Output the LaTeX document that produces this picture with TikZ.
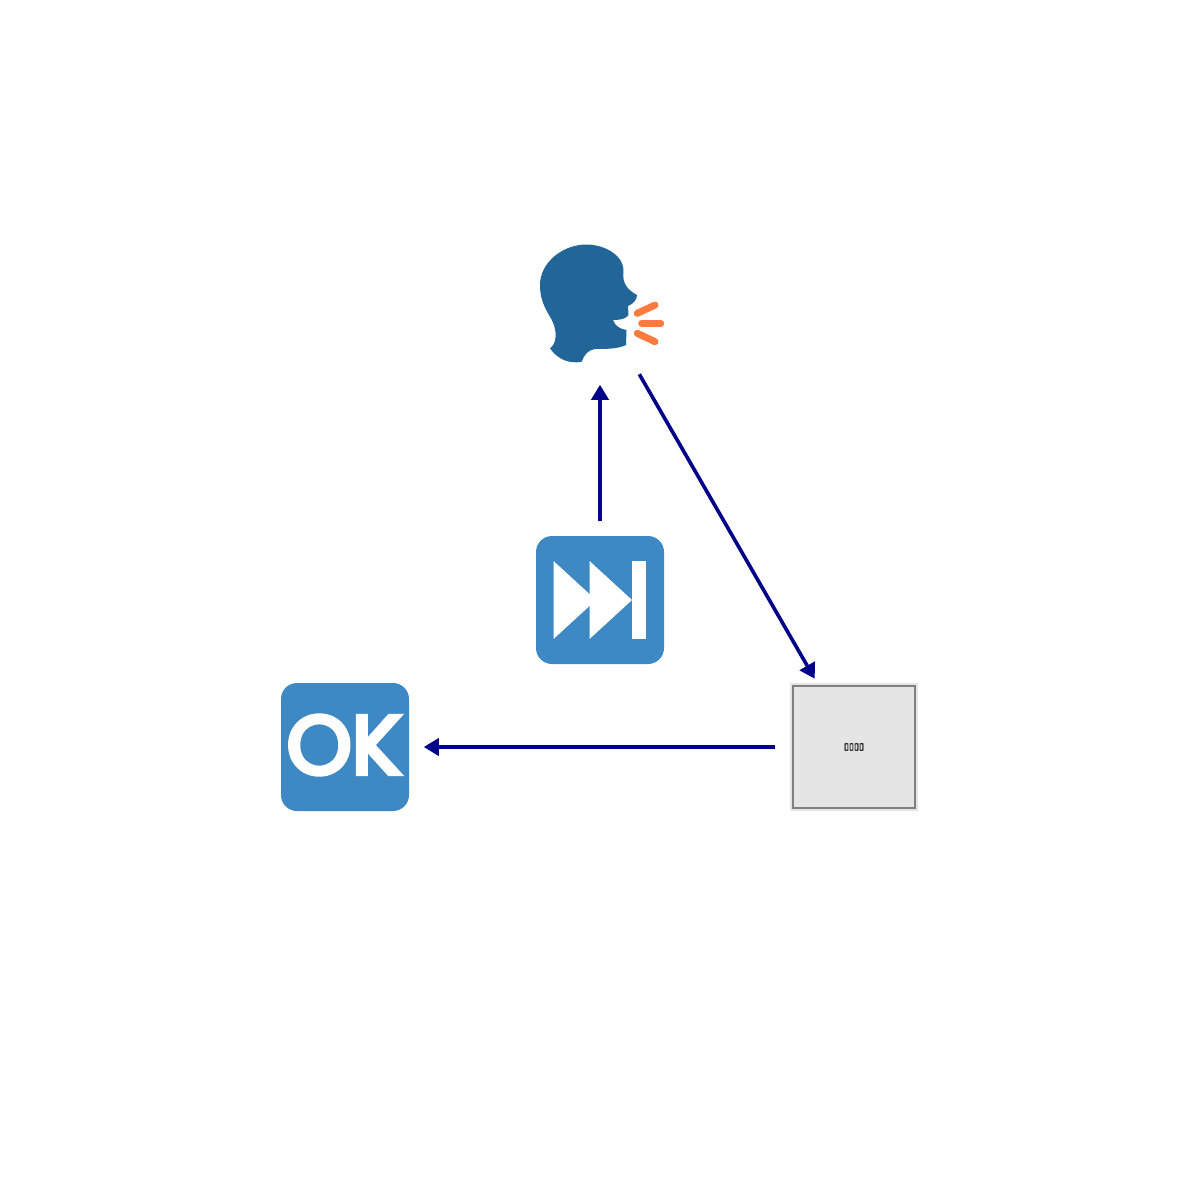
\documentclass[tikz,border=0pt]{standalone}
\usepackage{fontspec}
\newfontfamily\okfont[FakeBold=5.5]{Poppins}
\newfontfamily\boxfont[FakeBold=1]{DejaVu Sans}
\usetikzlibrary{arrows.meta}
\definecolor{iconblue}{HTML}{3E88C4}
\definecolor{headblue}{HTML}{226699}
\definecolor{shoutorange}{HTML}{FF7A3D}
\definecolor{linkblue}{HTML}{00008B}
\tikzset{
	ring/.style={circle, minimum size=1.56cm, inner sep=0pt},
	link/.style={-{Triangle[length=.15cm,width=.17cm]}, line width=.036cm, color=linkblue},
	shout/.style={line width=.07cm, line cap=round, color=shoutorange}
}
\begin{document}
\begin{tikzpicture}[x=.01cm, y=-.01cm]
	\useasboundingbox (0, 0) rectangle (1200, 1200);
	\fill[white] (0, 0) rectangle (1200, 1200);
	% head
	\fill[headblue] (586.5,244.5) .. controls (606,244.5) and (625,257) .. (623.5,272)
		.. controls (622,284) and (628,290) .. (637,295)
		.. controls (637,300) and (633,304) .. (628,306)
		-- (628.5,315) .. controls (626,319) and (620,320) .. (613,320)
		.. controls (615,326) and (620,329) .. (626.5,330)
		-- (626,345) .. controls (618,349) and (606,349) .. (595,349)
		.. controls (588,350) and (584,355) .. (581.7,361.7)
		.. controls (570,364) and (558,360) .. (550,348.3)
		.. controls (556,344) and (559,332) .. (550,316.7)
		.. controls (543,305) and (540,297) .. (540,285)
		.. controls (540,263) and (562,244.5) .. (586.5,244.5) -- cycle;
	\draw[shout] (637.3, 313.3)--(655, 305);
	\draw[shout] (641.7, 323.3)--(660.7, 323.3);
	\draw[shout] (637.3, 333.3)--(655, 341.7);
	% skip button
	\fill[iconblue, rounded corners=.16cm] (536, 536) rectangle (664, 664);
	\fill[white] (553.5, 561)--(596, 600)--(553.5, 639)--cycle;
	\fill[white] (589.5, 561)--(632, 600)--(589.5, 639)--cycle;
	\fill[white] (632, 561) rectangle (646, 639);
	% ok button
	\fill[iconblue, rounded corners=.16cm] (281, 683) rectangle (409, 811);
	% grey box
	\fill[black!10] (790, 683) rectangle (918, 811);
	\draw[black!50, line width=.025cm] (793, 686) rectangle (915, 808);
	\node[ring] (speak) at (600, 306) {};
	\node[ring] (skip) at (600, 600) {};
	\node[ring] (ok) at (345, 747) {};
	\node[text=white, inner sep=0pt, font=\okfont\fontsize{23.5}{25}\selectfont] (okword) at (344, 745) {OK};
	\node[ring, font=\boxfont\fontsize{2.6}{3}\selectfont] (box) at (854, 747) {▯▯▯▯};
	\draw[link] (skip)--(speak);
	\draw[link] (speak)--(box);
	\draw[link] (box)--(ok);
\end{tikzpicture}
\end{document}
